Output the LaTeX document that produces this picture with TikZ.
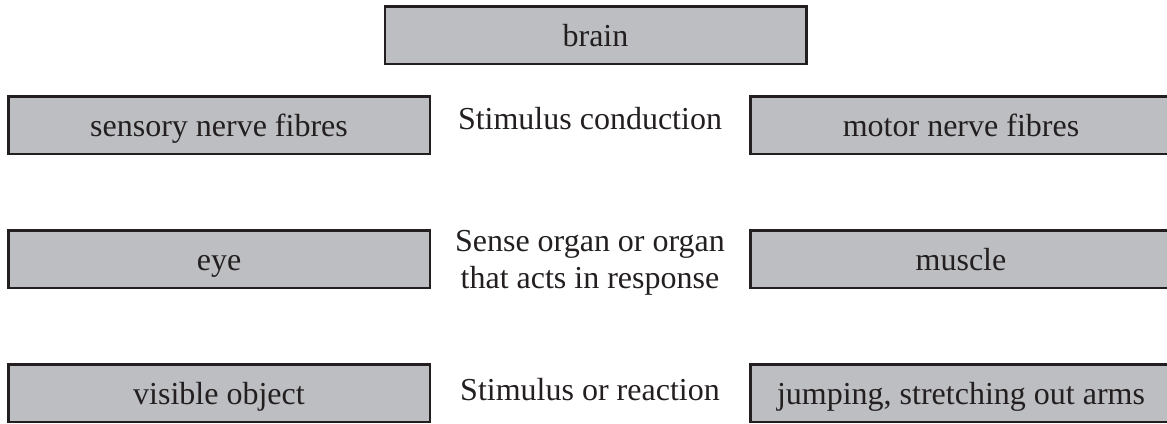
\documentclass[tikz,border=0pt]{standalone}
\usepackage{fontspec}
\setmainfont{Liberation Serif}
\usepackage{tikz}
\definecolor{boxgray}{RGB}{189,190,193}
\definecolor{inkblack}{RGB}{35,31,32}
\tikzset{
  organbox/.style={draw=inkblack, fill=boxgray, line width=2.5pt,
    minimum width=421.5pt, minimum height=57.5pt, inner sep=0pt,
    text height=23pt, text depth=0pt,
    font=\fontsize{32}{37}\selectfont, text=inkblack},
  rowlabel/.style={align=center, inner sep=0pt,
    font=\fontsize{32}{37}\selectfont, text=inkblack}
}

\begin{document}
\begin{tikzpicture}[x=1pt, y=-1pt]
      \useasboundingbox (0,0) rectangle (1167,423);
      \clip (0,0) rectangle (1167,423);
      \node[organbox] (brain) at (595.5,35) {brain};
      % left column
      \node[organbox] (sensory) at (219,125) {sensory nerve fibres};
      \node[organbox] (eye) at (219,259) {eye};
      \node[organbox] (object) at (219,393) {visible object};
      % right column
      \node[organbox] (motor) at (961,125) {motor nerve fibres};
      \node[organbox] (muscle) at (961,259) {muscle};
      \node[organbox] (jumping) at (961,393) {jumping, stretching out arms};
      % middle labels
      \node[rowlabel] (conduction) at (590,119) {Stimulus conduction};
      \node[rowlabel] (organ) at (590,263) {Sense organ or organ\\that acts in response};
      \node[rowlabel] (reaction) at (590,390) {Stimulus or reaction};
    \end{tikzpicture}
\end{document}
